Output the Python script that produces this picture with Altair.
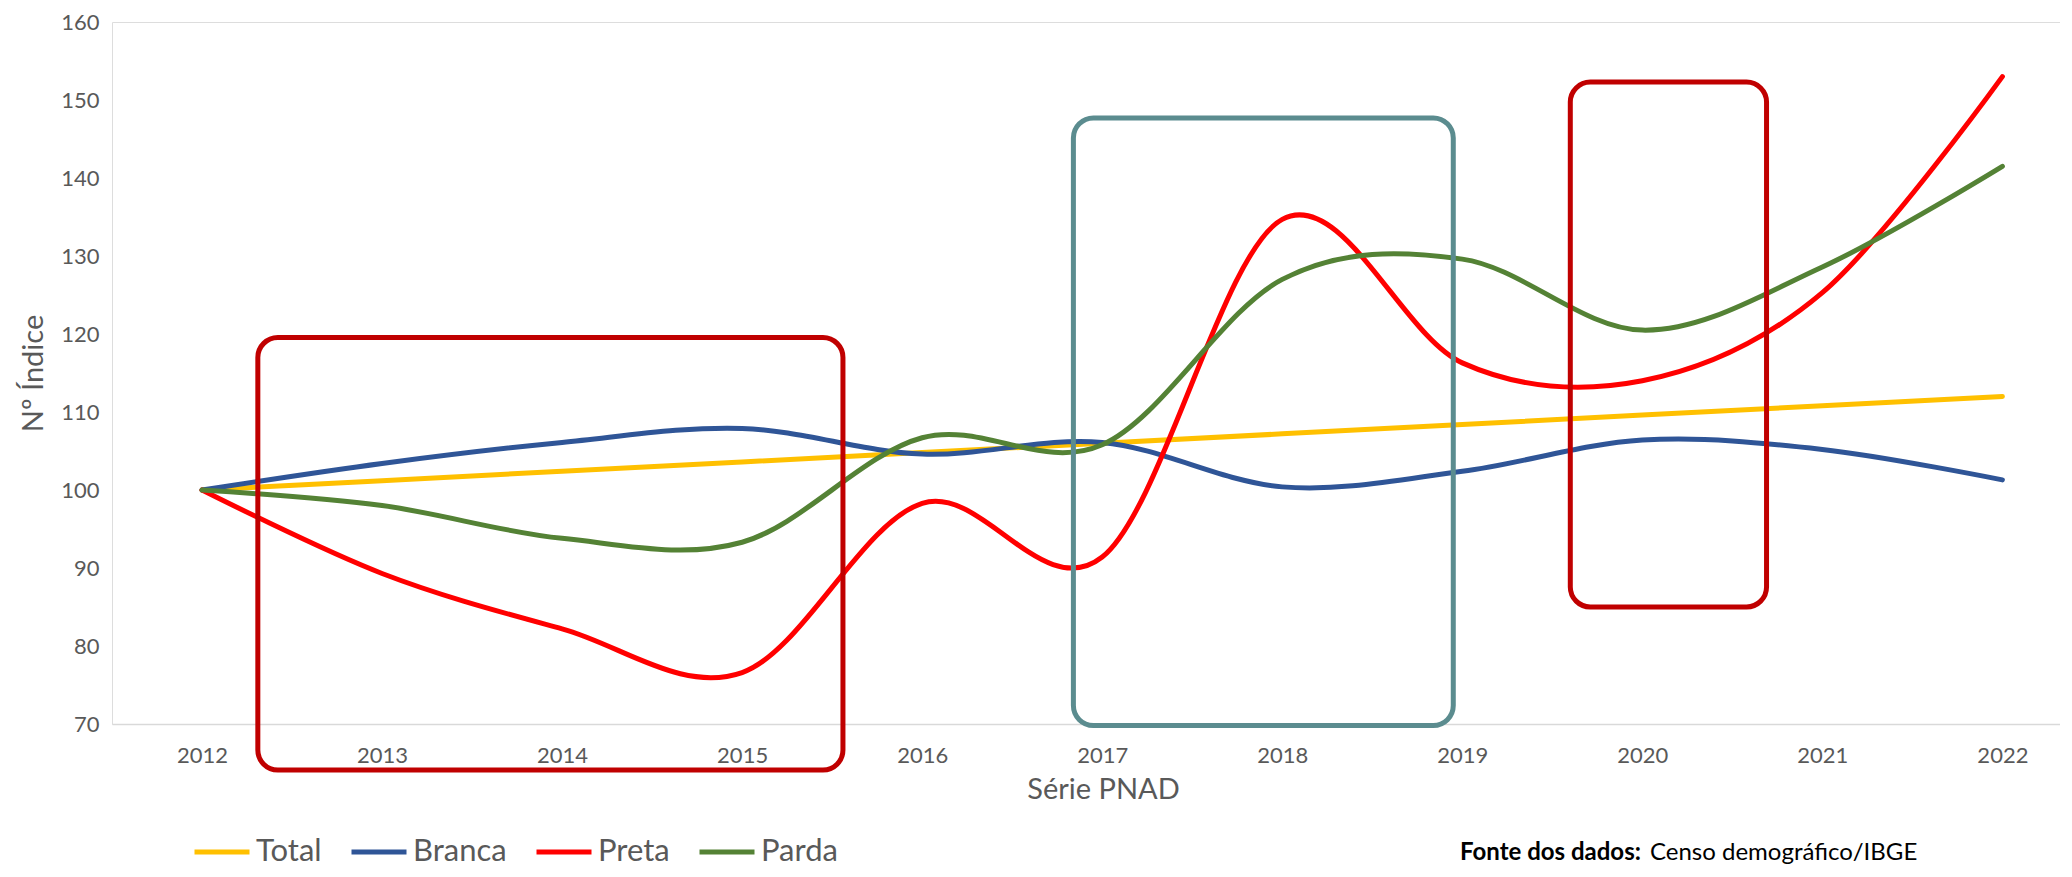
import altair as alt
import pandas as pd

years = [2012, 2013, 2014, 2015, 2016, 2017, 2018, 2019, 2020, 2021, 2022]
total = [100, 101.2, 102.4, 103.6, 104.8, 106.0, 107.2, 108.4, 109.6, 110.8, 112.0]
branca = [100, 103.4, 106.1, 107.9, 104.6, 106.1, 100.4, 102.4, 106.4, 105.2, 101.3]
preta = [100, 89.3, 82.2, 76.6, 98.3, 91.4, 134.7, 116.3, 114.0, 125.3, 153.0]
parda = [100, 98.0, 93.8, 93.3, 106.7, 105.8, 127.0, 129.6, 120.5, 128.6, 141.5]

series_names = ["Total", "Branca", "Preta", "Parda"]
series_colors = ["#FFC000", "#2F5597", "#FF0000", "#548235"]

y_ticks = [70, 80, 90, 100, 110, 120, 130, 140, 150, 160]

box_x = [2012.31, 2016.84, 2019.60]
box_x2 = [2015.56, 2018.95, 2020.69]
box_y = [119.55, 147.7, 152.3]
box_y2 = [64.1, 69.8, 85.0]
box_colors = ["#C00000", "#5B8C8F", "#C00000"]

source_bold = "Fonte dos dados:"
source_regular = "Censo demográfico/IBGE"

FONT = "Lato"
GRAY = "#595959"

rows = []
for name, vals in zip(series_names, [total, branca, preta, parda]):
    for yr, v in zip(years, vals):
        rows.append({"ano": yr, "valor": v, "serie": name})
df = pd.DataFrame(rows)

boxes = pd.DataFrame({"x": box_x, "x2": box_x2, "y": box_y, "y2": box_y2, "c": box_colors})

xscale = alt.Scale(domain=[2011.5, 2022.32], nice=False, zero=False)
yscale = alt.Scale(domain=[70, 160], nice=False, zero=False)

lines = alt.Chart(df).mark_line(
    interpolate="cardinal", tension=0, strokeWidth=5, strokeCap="round", strokeJoin="round"
).encode(
    x=alt.X("ano:Q", scale=xscale,
            axis=alt.Axis(values=years, format="d", title="Série PNAD", grid=False, ticks=False,
                          domain=True, domainColor="#D9D9D9", domainWidth=1.5,
                          labelFont=FONT, labelFontSize=22, labelColor=GRAY, labelPadding=21,
                          titleFont=FONT, titleFontSize=29, titleColor=GRAY, titleFontWeight="normal",
                          titleX=991, titleY=65, titleBaseline="middle", titleAlign="center")),
    y=alt.Y("valor:Q", scale=yscale,
            axis=alt.Axis(values=y_ticks, title="Nº Índice", grid=False, ticks=False, domain=False,
                          labelFont=FONT, labelFontSize=22, labelColor=GRAY, labelPadding=13,
                          titleFont=FONT, titleFontSize=29, titleColor=GRAY, titleFontWeight="normal",
                          titleAngle=270, titleX=-79, titleY=351, titleBaseline="middle",
                          titleAlign="center")),
    color=alt.Color("serie:N", scale=alt.Scale(domain=series_names, range=series_colors),
                    sort=series_names,
                    legend=alt.Legend(title=None, orient="none", direction="horizontal",
                                      legendX=80, legendY=800, symbolType="stroke",
                                      symbolSize=3025, symbolStrokeWidth=5, labelOffset=4,
                                      columnPadding=19, labelFont=FONT, labelFontSize=31,
                                      labelColor=GRAY)),
    order=alt.Order("ano:Q"),
)

rects = alt.Chart(boxes).mark_rect(
    fillOpacity=0, strokeWidth=5, cornerRadius=20, clip=False
).encode(
    x=alt.X("x:Q", scale=xscale),
    x2="x2:Q",
    y=alt.Y("y:Q", scale=yscale),
    y2="y2:Q",
    stroke=alt.Stroke("c:N", scale=None),
)

src = pd.DataFrame({"t1": [source_bold], "t2": [source_regular]})
txt_bold = alt.Chart(src).mark_text(
    font=FONT, fontSize=24, fontWeight="bold", color="#000000", align="left", baseline="alphabetic"
).encode(text="t1:N", x=alt.value(1348), y=alt.value(838))
txt_reg = alt.Chart(src).mark_text(
    font=FONT, fontSize=24, color="#000000", align="left", baseline="alphabetic"
).encode(text="t2:N", x=alt.value(1538), y=alt.value(838))

chart = alt.layer(lines, rects, txt_bold, txt_reg).properties(
    width=1948, height=702,
    padding={"left": 104, "top": 14, "right": 0, "bottom": 145},
    autosize=alt.AutoSizeParams(type="none"),
).configure_view(stroke=None).configure(background="white")

chart.save("out.html", embed_options={"renderer": "svg", "actions": False})
